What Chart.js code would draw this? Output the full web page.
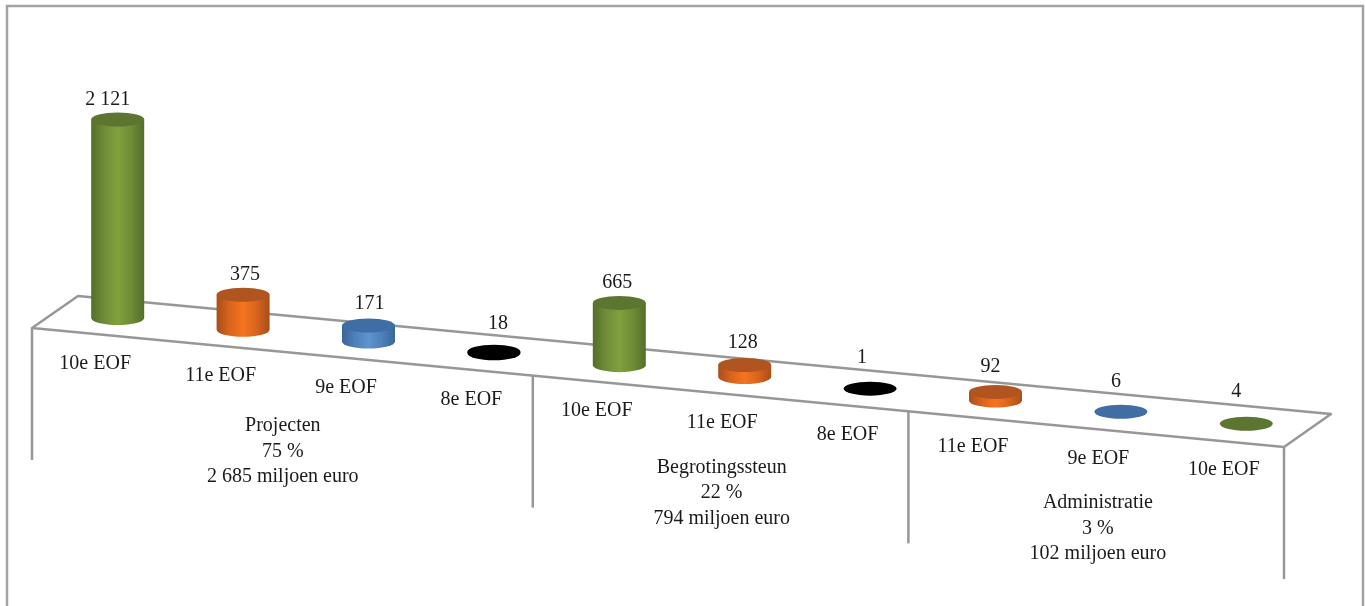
<!DOCTYPE html>
<html>
<head>
<meta charset="utf-8">
<title>EOF</title>
<script src="https://cdn.jsdelivr.net/npm/chart.js@4/dist/chart.umd.min.js"></script>
<style>
  html, body { margin: 0; padding: 0; background: #fff; overflow: hidden; }
  canvas { display: block; }
</style>
</head>
<body>
<canvas id="chart" width="1366" height="606"></canvas>
<script>
const categories = ['10e EOF', '11e EOF', '9e EOF', '8e EOF', '10e EOF', '11e EOF', '8e EOF', '11e EOF', '9e EOF', '10e EOF'];
const values = [2121, 375, 171, 18, 665, 128, 1, 92, 6, 4];
const groupNames = ['Projecten', 'Begrotingssteun', 'Administratie'];
const groupShares = ['75 %', '22 %', '3 %'];
const groupTotals = ['2 685 miljoen euro', '794 miljoen euro', '102 miljoen euro'];
const groupSizes = [4, 3, 3];

// colours per fund: side edge, side shoulder, side centre, top
const fundColors = {
  '10e EOF': ['#536e2b', '#6f8d36', '#80a13d', '#5c7530'],
  '11e EOF': ['#a84f1a', '#d9641d', '#f5741f', '#b05520'],
  '9e EOF': ['#376699', '#4e80b9', '#6093cf', '#3f6da4'],
  '8e EOF': ['#000000', '#000000', '#000000', '#000000']
};

// hand nudges for the value labels, the 3D view does not centre them on the bars
const valueNudgeX = [-10, 2, 1, 4, -2, -2, -8, -5, -5, -10];
const valueNudgeY = [-20, -20, -22, -28, -20, -22, -31, -25, -30, -32];

const SLOPE = 0.094;      // the floor falls to the right
const RY = 7;             // ellipse height of a cylinder
const FONT = '20px "Liberation Serif"';
const LINE = '#979797';
const TEXT = '#1a1a1a';

const fmt = v => String(v).replace(/\B(?=(\d{3})+$)/g, ' ');

function drawCylinder(ctx, x, top, bottom, w, colors) {
  const l = x - w / 2, r = x + w / 2;
  if (bottom - top > 1) {
    const g = ctx.createLinearGradient(l, 0, r, 0);
    g.addColorStop(0, colors[0]);
    g.addColorStop(0.25, colors[1]);
    g.addColorStop(0.5, colors[2]);
    g.addColorStop(0.75, colors[1]);
    g.addColorStop(1, colors[0]);
    ctx.fillStyle = g;
    ctx.beginPath();
    ctx.moveTo(l, top);
    ctx.lineTo(l, bottom);
    ctx.ellipse(x, bottom, w / 2, RY, 0, Math.PI, 0, true);
    ctx.lineTo(r, top);
    ctx.closePath();
    ctx.fill();
  }
  ctx.fillStyle = colors[3];
  ctx.beginPath();
  ctx.ellipse(x, top, w / 2, RY, 0, 0, Math.PI * 2);
  ctx.fill();
}

const floorPlugin = {
  id: 'floor',
  beforeDraw(chart) {
    const ctx = chart.ctx;
    ctx.save();
    ctx.fillStyle = '#fff';
    ctx.fillRect(0, 0, chart.width, chart.height);
    // outer frame, runs off the bottom of the picture
    ctx.strokeStyle = '#a3a3a3';
    ctx.lineWidth = 2.5;
    ctx.strokeRect(7, 6, 1356, 640);
    ctx.restore();
  },
  beforeDatasetDraw(chart) {
    const ctx = chart.ctx;
    const meta = chart.getDatasetMeta(0);
    const x0 = meta.data[0].x;
    const step = 125.2;
    const frontLeft = chart.chartArea.left - 23;
    const frontY = x => 328 + SLOPE * 1.012 * (x - 32);

    ctx.save();
    ctx.strokeStyle = LINE;
    ctx.lineWidth = 2.5;
    ctx.lineJoin = 'round';
    // floor
    ctx.beginPath();
    ctx.moveTo(frontLeft, frontY(frontLeft));
    ctx.lineTo(78, 296);
    ctx.lineTo(1331, 414);
    ctx.lineTo(frontLeft + step * values.length, frontY(frontLeft + step * values.length));
    ctx.closePath();
    ctx.stroke();
    // group separators
    let n = 0;
    [0, ...groupSizes].forEach(size => {
      n += size;
      const x = frontLeft + step * n;
      ctx.beginPath();
      ctx.moveTo(x, frontY(x));
      ctx.lineTo(x, frontY(x) + 132);
      ctx.stroke();
    });

    // cylinders
    meta.data.forEach((el, i) => {
      const shift = SLOPE * (el.x - x0);
      drawCylinder(ctx, el.x, el.y + shift, el.base + shift, el.width, fundColors[categories[i]]);
    });

    // text
    ctx.fillStyle = TEXT;
    ctx.font = FONT;
    ctx.textAlign = 'center';
    ctx.textBaseline = 'middle';
    meta.data.forEach((el, i) => {
      const shift = SLOPE * (el.x - x0);
      ctx.fillText(fmt(values[i]), el.x + valueNudgeX[i], el.y + shift + valueNudgeY[i]);
      ctx.fillText(categories[i], el.x - 22.5, el.base + shift + 46);
    });
    // group captions sit under the middle of their group
    let first = 0;
    groupNames.forEach((name, g) => {
      const a = meta.data[first], b = meta.data[first + groupSizes[g] - 1];
      const cx = (a.x + b.x) / 2 - 23;
      const cy = a.base + SLOPE * ((a.x + b.x) / 2 - x0) + 90.5;
      ctx.fillText(name, cx, cy);
      ctx.fillText(groupShares[g], cx, cy + 25.5);
      ctx.fillText(groupTotals[g], cx, cy + 51);
      first += groupSizes[g];
    });
    ctx.restore();
    return false;
  }
};

new Chart(document.getElementById('chart'), {
  type: 'bar',
  data: {
    labels: categories,
    datasets: [{
      data: values,
      backgroundColor: categories.map(c => fundColors[c][2]),
      categoryPercentage: 1,
      barPercentage: 0.4226
    }]
  },
  options: {
    responsive: false,
    animation: false,
    devicePixelRatio: 1,
    layout: { padding: { left: 55, right: 57, top: 84, bottom: 288 } },
    plugins: { legend: { display: false }, tooltip: { enabled: false } },
    scales: {
      x: { display: false },
      y: { display: false, min: 0, max: 2500 }
    }
  },
  plugins: [floorPlugin]
});
</script>
</body>
</html>
